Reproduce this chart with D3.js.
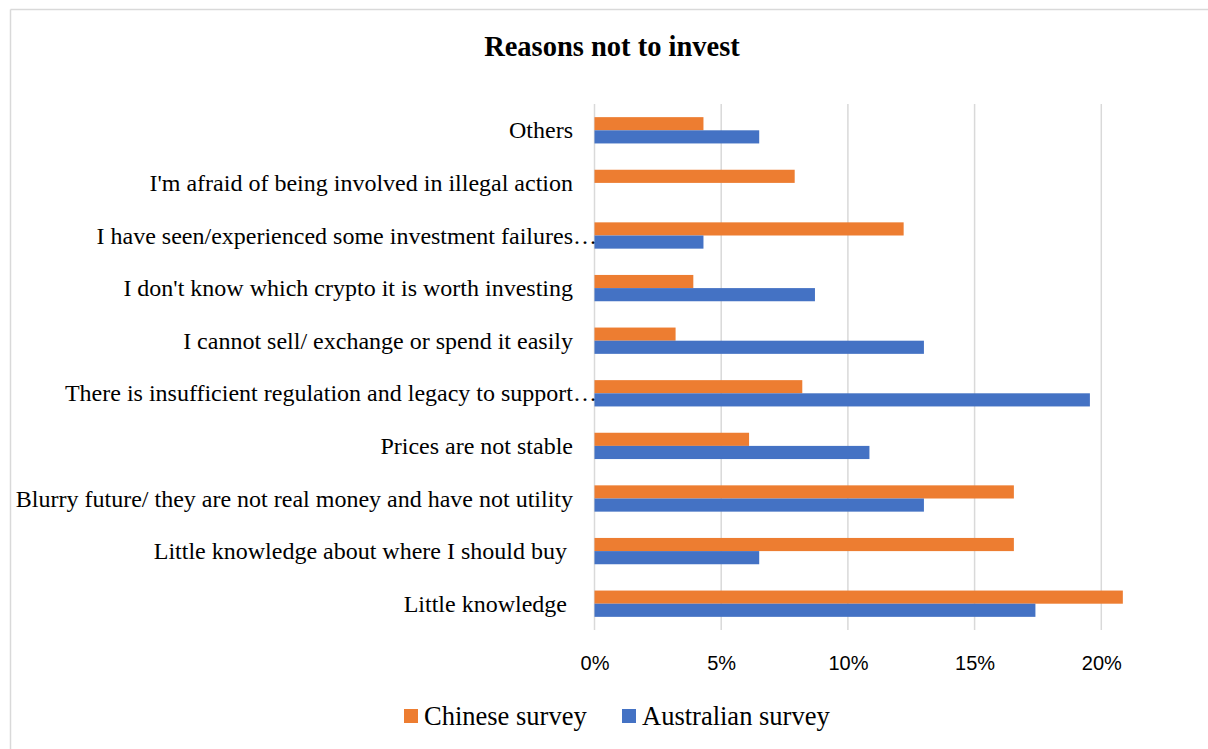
<!DOCTYPE html>
<html>
<head>
<meta charset="utf-8">
<script src="https://cdn.jsdelivr.net/npm/d3@7"></script>
<style>
  html, body { margin: 0; padding: 0; background: #fff; }
  svg { display: block; }
  text { white-space: pre; }
</style>
</head>
<body>
<svg id="chart" width="1208" height="749"></svg>
<script>
// Data (top of chart first)
const categories = [
  "Others",
  "I'm afraid of being involved in illegal action",
  "I have seen/experienced some investment failures…",
  "I don't know which crypto it is worth investing",
  "I cannot sell/ exchange or spend it easily",
  "There is insufficient regulation and legacy to support…",
  "Prices are not stable",
  "Blurry future/ they are not real money and have not utility",
  "Little knowledge about where I should buy ",
  "Little knowledge "
];
const chineseSurvey    = [4.3, 7.9, 12.2, 3.9, 3.2, 8.2, 6.1, 16.55, 16.55, 20.85];
const australianSurvey = [6.5, 0,   4.3,  8.7, 13.0, 19.55, 10.85, 13.0, 6.5, 17.4];
const seriesNames = ["Chinese survey", "Australian survey"];
const seriesColors = ["#ED7D31", "#4472C4"];
const tickValues = [0, 5, 10, 15, 20];

const svg = d3.select("#chart");

// chart frame (partial border as in reference)
svg.append("line").attr("x1", 10.5).attr("x2", 1208).attr("y1", 9.5).attr("y2", 9.5)
  .attr("stroke", "#d9d9d9").attr("stroke-width", 1.5);
svg.append("line").attr("x1", 10.5).attr("x2", 10.5).attr("y1", 9.5).attr("y2", 749)
  .attr("stroke", "#d9d9d9").attr("stroke-width", 1.5);

const plot = { left: 594.5, top: 104, bottom: 630 };
const x = d3.scaleLinear().domain([0, 5]).range([plot.left, 721.2]);
const y = d3.scaleBand().domain(categories).range([plot.top, plot.bottom]).paddingInner(0.5).paddingOuter(0.25);
const ySub = d3.scaleBand().domain([0, 1]).range([0, y.bandwidth()]);

// title
svg.append("text").attr("x", 612).attr("y", 56).attr("text-anchor", "middle")
  .attr("font-family", "'Liberation Serif', 'Times New Roman', serif")
  .attr("font-weight", "bold").attr("font-size", 28.5).attr("fill", "#000")
  .text("Reasons not to invest");

// gridlines
const grid = svg.append("g");
grid.selectAll("line").data(tickValues).join("line")
  .attr("x1", d => x(d)).attr("x2", d => x(d))
  .attr("y1", plot.top).attr("y2", plot.bottom)
  .attr("stroke", "#d9d9d9").attr("stroke-width", 1.5);

// bars
const series = [chineseSurvey, australianSurvey];
series.forEach((vals, si) => {
  svg.append("g").selectAll("rect").data(categories).join("rect")
    .attr("x", x(0))
    .attr("y", (c) => y(c) + ySub(si))
    .attr("width", (c, i) => Math.max(0, x(vals[i]) - x(0)))
    .attr("height", ySub.bandwidth())
    .attr("fill", seriesColors[si]);
});

// x-axis tick labels
const xAxis = d3.axisBottom(x).tickValues(tickValues).tickFormat(d => d + "%").tickSize(0).tickPadding(0);
const xg = svg.append("g").attr("transform", `translate(0, 654)`).call(xAxis);
xg.select(".domain").remove();
xg.selectAll("text")
  .attr("font-family", "'Liberation Sans', Arial, sans-serif")
  .attr("font-size", 20).attr("fill", "#000").attr("dy", "0.8em");

// category labels
const labelRight = 573;
const lg = svg.append("g");
lg.selectAll("text").data(categories).join("text")
  .attr("y", c => y(c) + y.bandwidth() / 2 + 8)
  .attr("font-family", "'Liberation Serif', 'Times New Roman', serif")
  .attr("font-size", 24).attr("fill", "#000")
  .attr("text-anchor", "start")
  .text(c => c)
  .each(function(c) {
    const node = this;
    const n = c.length;
    const w = c.endsWith("…") ? node.getSubStringLength(0, n - 1) : node.getComputedTextLength();
    d3.select(node).attr("x", labelRight - w);
  });

// legend
const legendItems = [
  { name: seriesNames[0], color: seriesColors[0], x: 404 },
  { name: seriesNames[1], color: seriesColors[1], x: 622 }
];
const leg = svg.append("g");
legendItems.forEach(it => {
  leg.append("rect").attr("x", it.x).attr("y", 709).attr("width", 14).attr("height", 14).attr("fill", it.color);
  leg.append("text").attr("x", it.x + 20).attr("y", 725)
    .attr("font-family", "'Liberation Serif', 'Times New Roman', serif")
    .attr("font-size", 26.5).attr("fill", "#000").text(it.name);
});
</script>
</body>
</html>
